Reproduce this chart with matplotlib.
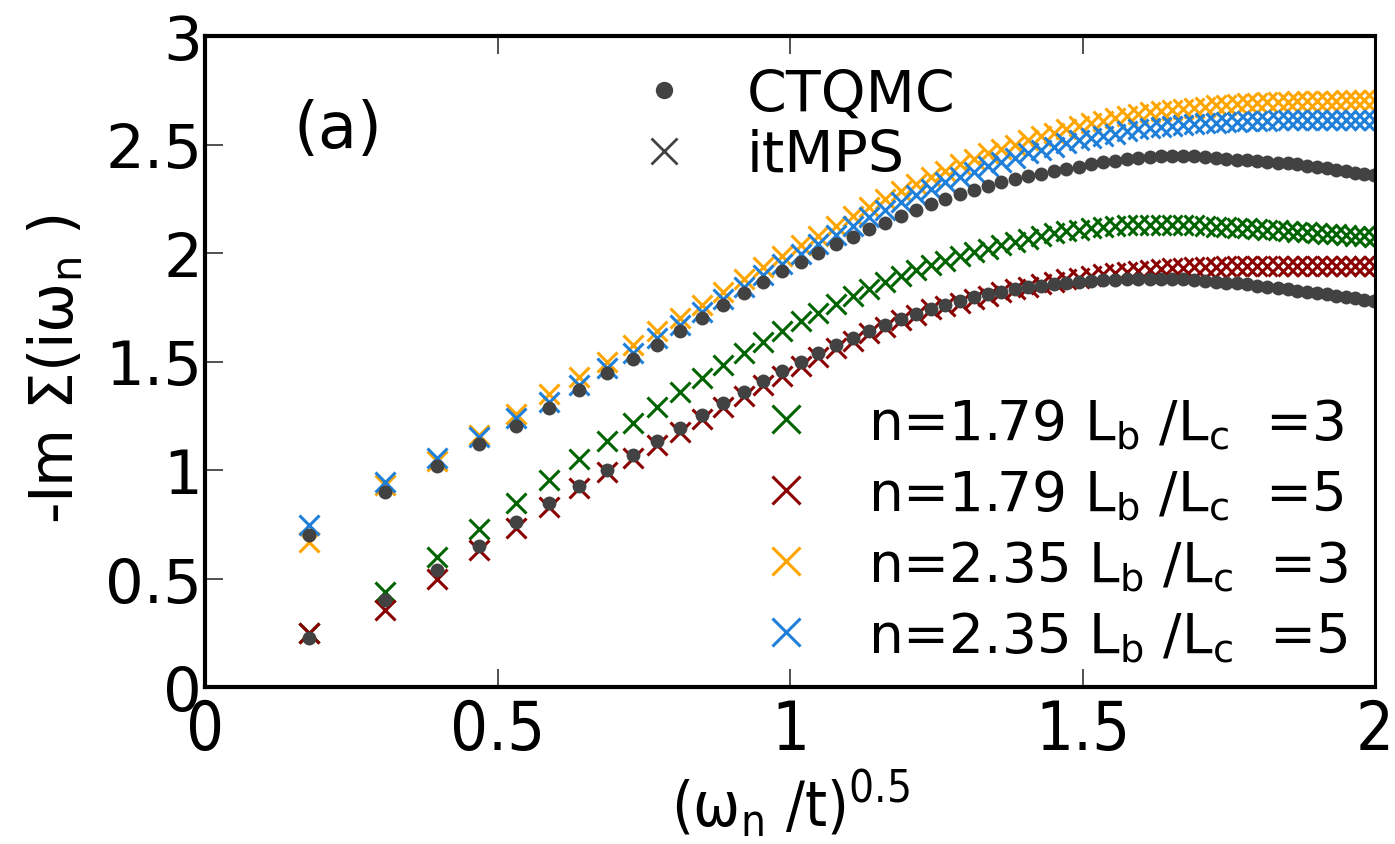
import matplotlib
matplotlib.use("Agg")
import matplotlib.pyplot as plt
from matplotlib import font_manager as fm
from matplotlib.lines import Line2D

# Matsubara axis: (omega_n / t)^0.5
omega_sqrt = [0.1772, 0.3070, 0.3963, 0.4690, 0.5317, 0.5879, 0.6391, 0.6865, 0.7308, 0.7726,
              0.8122, 0.8500, 0.8862, 0.9210, 0.9545, 0.9869, 1.0182, 1.0486, 1.0781, 1.1069,
              1.1349, 1.1623, 1.1890, 1.2151, 1.2407, 1.2658, 1.2904, 1.3145, 1.3382, 1.3614,
              1.3843, 1.4068, 1.4290, 1.4508, 1.4723, 1.4935, 1.5144, 1.5350, 1.5553, 1.5754,
              1.5952, 1.6148, 1.6341, 1.6532, 1.6721, 1.6908, 1.7093, 1.7276, 1.7457, 1.7636,
              1.7813, 1.7988, 1.8162, 1.8334, 1.8505, 1.8674, 1.8841, 1.9007, 1.9172, 1.9335,
              1.9497, 1.9657, 1.9817, 1.9975]

# -Im Sigma(i omega_n), CTQMC reference data
ctqmc_n179 = [0.225, 0.40, 0.54, 0.652, 0.76, 0.848, 0.928, 1.00, 1.07, 1.135,
              1.195, 1.255, 1.31, 1.36, 1.41, 1.455, 1.50, 1.54, 1.575, 1.61,
              1.64, 1.67, 1.695, 1.72, 1.742, 1.762, 1.78, 1.795, 1.81, 1.822,
              1.833, 1.842, 1.85, 1.857, 1.862, 1.867, 1.871, 1.874, 1.877, 1.879,
              1.88, 1.881, 1.881, 1.88, 1.878, 1.875, 1.872, 1.868, 1.864, 1.86,
              1.855, 1.85, 1.845, 1.839, 1.833, 1.827, 1.821, 1.815, 1.809, 1.803,
              1.797, 1.791, 1.785, 1.779]
ctqmc_n235 = [0.70, 0.90, 1.02, 1.12, 1.205, 1.285, 1.37, 1.445, 1.51, 1.575,
              1.64, 1.70, 1.76, 1.815, 1.865, 1.915, 1.96, 2.00, 2.04, 2.075,
              2.11, 2.14, 2.17, 2.20, 2.225, 2.25, 2.27, 2.29, 2.31, 2.325,
              2.34, 2.355, 2.365, 2.378, 2.388, 2.398, 2.408, 2.418, 2.425, 2.432,
              2.438, 2.443, 2.447, 2.449, 2.448, 2.445, 2.441, 2.437, 2.434, 2.430,
              2.427, 2.424, 2.421, 2.417, 2.413, 2.408, 2.403, 2.397, 2.391, 2.384,
              2.377, 2.370, 2.364, 2.358]

# itMPS data for the two fillings and two bath/chain ratios
mps_n179_r3 = [0.25, 0.44, 0.60, 0.73, 0.85, 0.955, 1.05, 1.135, 1.215, 1.29,
               1.36, 1.425, 1.485, 1.54, 1.59, 1.64, 1.685, 1.725, 1.765, 1.80,
               1.835, 1.865, 1.895, 1.92, 1.945, 1.965, 1.985, 2.005, 2.02, 2.035,
               2.05, 2.065, 2.078, 2.09, 2.10, 2.108, 2.115, 2.12, 2.124, 2.127,
               2.129, 2.13, 2.13, 2.13, 2.129, 2.127, 2.125, 2.122, 2.119, 2.116,
               2.113, 2.11, 2.107, 2.104, 2.101, 2.098, 2.095, 2.092, 2.089, 2.086,
               2.083, 2.08, 2.077, 2.074]
mps_n179_r5 = [0.25, 0.355, 0.50, 0.63, 0.735, 0.83, 0.915, 0.99, 1.055, 1.115,
               1.175, 1.235, 1.29, 1.34, 1.39, 1.435, 1.48, 1.52, 1.56, 1.595,
               1.63, 1.66, 1.69, 1.715, 1.74, 1.755, 1.77, 1.788, 1.803, 1.818,
               1.832, 1.845, 1.857, 1.868, 1.878, 1.887, 1.895, 1.902, 1.908, 1.913,
               1.918, 1.922, 1.926, 1.929, 1.932, 1.934, 1.936, 1.937, 1.938, 1.939,
               1.94, 1.94, 1.941, 1.941, 1.941, 1.942, 1.942, 1.942, 1.942, 1.942,
               1.942, 1.942, 1.942, 1.942]
mps_n235_r3 = [0.67, 0.93, 1.04, 1.16, 1.26, 1.35, 1.43, 1.50, 1.575, 1.64,
               1.70, 1.76, 1.82, 1.88, 1.935, 1.985, 2.035, 2.08, 2.125, 2.17,
               2.21, 2.25, 2.285, 2.32, 2.35, 2.38, 2.41, 2.435, 2.46, 2.48,
               2.50, 2.52, 2.54, 2.555, 2.57, 2.585, 2.60, 2.61, 2.62, 2.63,
               2.64, 2.65, 2.655, 2.66, 2.665, 2.67, 2.675, 2.68, 2.683, 2.686,
               2.689, 2.692, 2.694, 2.696, 2.698, 2.70, 2.70, 2.701, 2.702, 2.702,
               2.703, 2.703, 2.703, 2.703]
mps_n235_r5 = [0.745, 0.945, 1.055, 1.15, 1.24, 1.315, 1.39, 1.47, 1.54, 1.61,
               1.67, 1.73, 1.79, 1.845, 1.90, 1.95, 1.995, 2.04, 2.085, 2.125,
               2.165, 2.20, 2.235, 2.265, 2.295, 2.325, 2.35, 2.375, 2.40, 2.42,
               2.44, 2.46, 2.475, 2.49, 2.505, 2.52, 2.53, 2.54, 2.55, 2.56,
               2.57, 2.575, 2.58, 2.585, 2.59, 2.595, 2.598, 2.60, 2.603, 2.605,
               2.607, 2.609, 2.61, 2.611, 2.612, 2.613, 2.613, 2.613, 2.613, 2.613,
               2.613, 2.613, 2.613, 2.613]

mps_labels = [r'n=1.79 L$_\mathregular{b}$ /L$_\mathregular{c}$  =3',
              r'n=1.79 L$_\mathregular{b}$ /L$_\mathregular{c}$  =5',
              r'n=2.35 L$_\mathregular{b}$ /L$_\mathregular{c}$  =3',
              r'n=2.35 L$_\mathregular{b}$ /L$_\mathregular{c}$  =5']
mps_colors = ['#006400', '#8b0000', '#ffa500', '#1f7fd9']
dot_color = '#424242'

xticks = [0, 0.5, 1, 1.5, 2]
xtick_labels = ['0', '0.5', '1', '1.5', '2']
yticks = [0, 0.5, 1, 1.5, 2, 2.5, 3]
ytick_labels = ['0', '0.5', '1', '1.5', '2', '2.5', '3']

plt.rcParams['font.family'] = 'DejaVu Sans'
plt.rcParams['mathtext.fontset'] = 'dejavusans'


def font(size, narrow=False):
    if narrow:
        path = fm.findfont(fm.FontProperties(family='DejaVu Sans', stretch='condensed'))
        if 'ondensed' in path:
            return fm.FontProperties(fname=path, size=size)
    return fm.FontProperties(family='DejaVu Sans', size=size)


fig = plt.figure(figsize=(13.95, 8.45), dpi=100)
ax = fig.add_axes([205 / 1395, 1 - 688 / 845, 1170 / 1395, 651 / 845])

mps_series = [mps_n179_r3, mps_n179_r5, mps_n235_r3, mps_n235_r5]
for ys, col in zip(mps_series, mps_colors):
    ax.plot(omega_sqrt, ys, ls='none', marker='x', ms=14.4, mew=2.2, color=col)
for ys in (ctqmc_n179, ctqmc_n235):
    ax.plot(omega_sqrt, ys, ls='none', marker='o', ms=10, mew=0, color=dot_color)

ax.set_xlim(0, 2)
ax.set_ylim(0, 3)
ax.set_xticks(xticks)
ax.set_xticklabels(xtick_labels, fontproperties=font(48, narrow=True))
ax.set_yticks(yticks)
ax.set_yticklabels(ytick_labels, fontproperties=font(44))
ax.tick_params(direction='in', length=13, width=1.2, color='#333333',
               top=True, right=False)
ax.tick_params(axis='x', pad=7)
ax.tick_params(axis='y', pad=2)
for side in ('left', 'bottom', 'top'):
    ax.spines[side].set_linewidth(3.0)
ax.spines['right'].set_linewidth(2.2)

ax.set_xlabel(r'(ω$_\mathregular{n}$ /t)$^\mathregular{0.5}$',
              fontproperties=font(45, narrow=True), va='baseline')
ax.xaxis.set_label_coords(0.5, -0.2135)
ax.set_ylabel(r'-Im Σ(iω$_\mathregular{n}$ )', fontproperties=font(43),
              va='center', ha='center')
ax.yaxis.set_label_coords(-0.1274, 0.49)

ax.text(0.1137, 0.857, '(a)', transform=ax.transAxes, ha='center', va='center',
        fontproperties=font(46))

# method legend
method_handles = [Line2D([], [], ls='none', marker='o', ms=12.5, mew=0, color=dot_color),
                  Line2D([], [], ls='none', marker='x', ms=19, mew=2.0, color=dot_color)]
leg1 = ax.legend(method_handles, ['CTQMC', 'itMPS'], loc='upper left',
                 bbox_to_anchor=(0.356, 0.952), frameon=False, prop=font(41),
                 handlelength=1.5, handletextpad=0.7, labelspacing=0.1,
                 borderpad=0, borderaxespad=0)
ax.add_artist(leg1)

# parameter legend
param_handles = [Line2D([], [], ls='none', marker='x', ms=19.5, mew=2.2, color=c)
                 for c in mps_colors]
ax.legend(param_handles, mps_labels, loc='upper left', bbox_to_anchor=(0.461, 0.447),
          frameon=False, prop=font(39.5), handlelength=1.5,
          handletextpad=0.75, labelspacing=0.31, borderpad=0, borderaxespad=0)

fig.savefig('out.png', dpi=100)
